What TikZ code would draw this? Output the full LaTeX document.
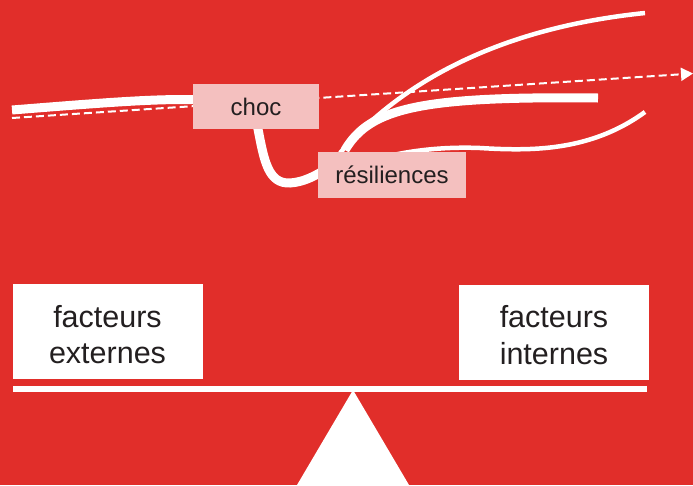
\documentclass[tikz,border=0pt]{standalone}
\usepackage{fontspec}
\setmainfont{Liberation Sans}
\usetikzlibrary{arrows.meta}

\definecolor{bgred}{HTML}{E12E2A}
\definecolor{shockpink}{HTML}{F4C0BF}
\definecolor{inkgray}{HTML}{231F20}

\begin{document}
\begin{tikzpicture}[
        x=1pt, y=-1pt,
        >=Triangle,
        curve/.style={draw=white, line width=9pt},
        thincurve/.style={draw=white, line width=4.5pt},
        trend/.style={draw=white, line width=2pt, dash pattern=on 8pt off 4pt,
          -{Triangle[length=12pt, width=13pt]}},
        label/.style={fill=shockpink, text=inkgray, inner sep=0pt,
          font=\fontsize{24}{28}\selectfont},
        factor/.style={fill=white, text=inkgray, inner sep=0pt, align=center,
          minimum width=190pt, minimum height=95pt,
          font=\fontsize{30.5}{36.7}\selectfont}
      ]

      % --- Background ---
      \useasboundingbox (0,0) rectangle (693,485);
      \fill[bgred] (0,0) rectangle (693,485);

      % --- Trend line (drawn first, boxes hide it) ---
      \coordinate (trendstart) at (12,118);
      \coordinate (trendend) at (693,73.5);
      \draw[trend] (trendstart) -- (trendend);

      % --- Trajectory and shock ---
      \draw[curve] (12,110) .. controls (100,103) and (160,98) .. (200,100)
        .. controls (240,102) and (254,112) .. (258,129)
        .. controls (264,160) and (268,184) .. (290,183)
        .. controls (305,182) and (318,175) .. (340,160);

      % --- Resilience paths ---
      \draw[thincurve] (340,153) .. controls (390,95) and (480,30) .. (645,13);
      \draw[curve] (345,150) .. controls (370,108) and (420,96) .. (598,98);
      \draw[thincurve] (350,168) .. controls (385,154) and (430,146) .. (480,148)
        .. controls (530,151) and (590,152) .. (645,112);

      % --- Labels ---
      \node[label, minimum width=126pt, minimum height=45pt] (choc) at (256,106.5) {choc};
      \node[label, minimum width=148pt, minimum height=46pt] (resil) at (392,175) {résiliences};

      % --- Scale ---
      \node[factor] (ext) at (107.5,331.5) {\rule{0pt}{28pt}facteurs\\externes};
      \node[factor] (int) at (554,332) {\rule{0pt}{28pt}facteurs\\internes};
      \fill[white] (13,386) rectangle (647,392);
      \fill[white] (353,390) -- (297,485) -- (409,485) -- cycle;

    \end{tikzpicture}
\end{document}
